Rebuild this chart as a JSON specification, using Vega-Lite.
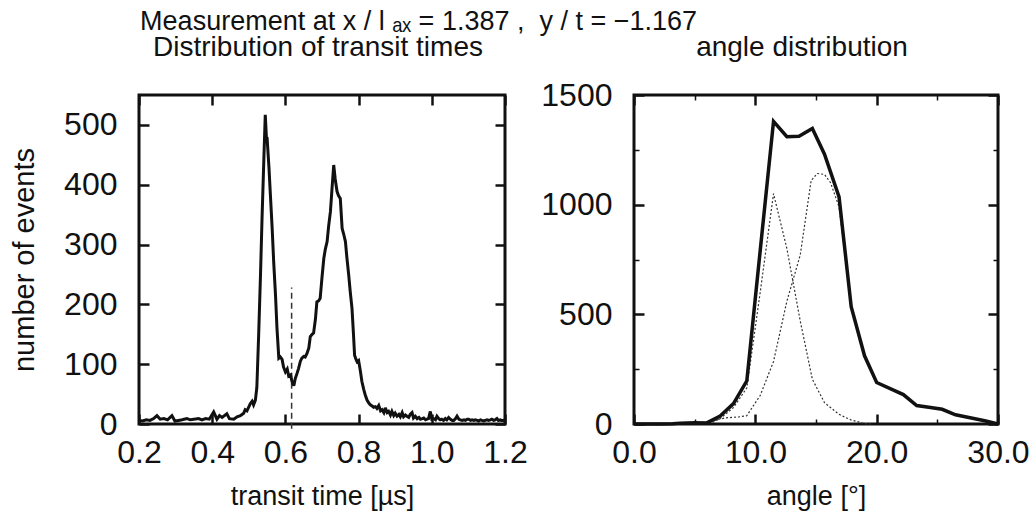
{
  "$schema": "https://vega.github.io/schema/vega-lite/v6.json",
  "padding": {"left": 9, "top": 8, "right": 0, "bottom": 0},
  "background": "white",
  "config": {
    "font": "Liberation Sans",
    "view": {"stroke": "#111", "strokeWidth": 3},
    "axis": {
      "grid": false,
      "domain": false,
      "ticks": true,
      "minExtent": 0,
      "tickColor": "#111",
      "tickWidth": 2.5,
      "tickSize": 10,
      "offset": -10,
      "labelFlush": false,
      "labelFontSize": 32,
      "labelColor": "#111",
      "labelPadding": 22,
      "titleFontSize": 27,
      "titleFontWeight": "normal",
      "titleColor": "#111"
    },
    "axisX": {"labelPadding": 13, "titlePadding": 15},
    "title": {"fontSize": 28, "fontWeight": "normal", "color": "#111"}
  },
  "title": {"text": "Measurement at x / l ₐₓ = 1.387 ,\u00a0\u00a0y / t = −1.167", "fontSize": 27, "anchor": "start", "dx": 131, "offset": -4},
  "datasets": {
    "transit": [
      {"t":0.200,"n":6},{"t":0.210,"n":5},{"t":0.220,"n":7},{"t":0.230,"n":6},{"t":0.240,"n":9},{"t":0.249,"n":14},{"t":0.258,"n":8},{"t":0.268,"n":9},{"t":0.278,"n":7},{"t":0.290,"n":14},{"t":0.298,"n":5},{"t":0.308,"n":6},{"t":0.318,"n":7},{"t":0.331,"n":9},{"t":0.340,"n":7},{"t":0.350,"n":8},{"t":0.363,"n":9},{"t":0.372,"n":7},{"t":0.382,"n":9},{"t":0.392,"n":8},{"t":0.404,"n":20},{"t":0.413,"n":8},{"t":0.420,"n":14},{"t":0.427,"n":11},{"t":0.440,"n":17},{"t":0.447,"n":9},{"t":0.459,"n":8},{"t":0.468,"n":12},{"t":0.477,"n":14},{"t":0.486,"n":18},{"t":0.490,"n":24},{"t":0.495,"n":22},{"t":0.504,"n":34},{"t":0.509,"n":38},{"t":0.513,"n":32},{"t":0.518,"n":40},{"t":0.522,"n":61},{"t":0.527,"n":150},{"t":0.532,"n":250},{"t":0.536,"n":340},{"t":0.541,"n":440},{"t":0.545,"n":517},{"t":0.548,"n":480},{"t":0.550,"n":478},{"t":0.555,"n":430},{"t":0.559,"n":383},{"t":0.564,"n":325},{"t":0.568,"n":271},{"t":0.573,"n":215},{"t":0.577,"n":160},{"t":0.582,"n":110},{"t":0.586,"n":112},{"t":0.591,"n":108},{"t":0.595,"n":95},{"t":0.600,"n":87},{"t":0.605,"n":92},{"t":0.609,"n":80},{"t":0.614,"n":82},{"t":0.618,"n":71},{"t":0.623,"n":64},{"t":0.627,"n":76},{"t":0.632,"n":85},{"t":0.636,"n":93},{"t":0.641,"n":105},{"t":0.645,"n":110},{"t":0.650,"n":113},{"t":0.654,"n":112},{"t":0.659,"n":118},{"t":0.664,"n":127},{"t":0.668,"n":146},{"t":0.673,"n":150},{"t":0.677,"n":152},{"t":0.682,"n":175},{"t":0.686,"n":204},{"t":0.691,"n":206},{"t":0.695,"n":210},{"t":0.700,"n":245},{"t":0.705,"n":277},{"t":0.709,"n":292},{"t":0.714,"n":305},{"t":0.718,"n":330},{"t":0.723,"n":355},{"t":0.727,"n":390},{"t":0.732,"n":433},{"t":0.736,"n":410},{"t":0.741,"n":389},{"t":0.745,"n":382},{"t":0.750,"n":377},{"t":0.755,"n":327},{"t":0.759,"n":318},{"t":0.764,"n":305},{"t":0.768,"n":278},{"t":0.773,"n":249},{"t":0.777,"n":222},{"t":0.782,"n":193},{"t":0.786,"n":150},{"t":0.789,"n":115},{"t":0.793,"n":108},{"t":0.796,"n":104},{"t":0.800,"n":106},{"t":0.805,"n":88},{"t":0.809,"n":71},{"t":0.814,"n":58},{"t":0.818,"n":49},{"t":0.823,"n":40},{"t":0.828,"n":35},{"t":0.832,"n":32},{"t":0.837,"n":30},{"t":0.841,"n":28},{"t":0.846,"n":29},{"t":0.850,"n":26},{"t":0.855,"n":31},{"t":0.860,"n":22},{"t":0.864,"n":24},{"t":0.869,"n":19},{"t":0.873,"n":27},{"t":0.878,"n":19},{"t":0.882,"n":21},{"t":0.887,"n":15},{"t":0.891,"n":21},{"t":0.896,"n":14},{"t":0.900,"n":18},{"t":0.905,"n":13},{"t":0.910,"n":16},{"t":0.914,"n":12},{"t":0.919,"n":19},{"t":0.923,"n":12},{"t":0.928,"n":15},{"t":0.932,"n":13},{"t":0.937,"n":11},{"t":0.941,"n":16},{"t":0.946,"n":19},{"t":0.950,"n":10},{"t":0.955,"n":13},{"t":0.960,"n":9},{"t":0.965,"n":11},{"t":0.969,"n":8},{"t":0.974,"n":9},{"t":0.978,"n":10},{"t":0.983,"n":7},{"t":0.987,"n":8},{"t":0.991,"n":9},{"t":0.996,"n":21},{"t":1.000,"n":8},{"t":1.005,"n":9},{"t":1.010,"n":7},{"t":1.014,"n":13},{"t":1.019,"n":9},{"t":1.023,"n":7},{"t":1.027,"n":8},{"t":1.032,"n":6},{"t":1.037,"n":9},{"t":1.041,"n":7},{"t":1.046,"n":11},{"t":1.051,"n":8},{"t":1.056,"n":6},{"t":1.060,"n":6},{"t":1.065,"n":9},{"t":1.069,"n":13},{"t":1.074,"n":8},{"t":1.078,"n":7},{"t":1.083,"n":6},{"t":1.088,"n":7},{"t":1.092,"n":6},{"t":1.097,"n":8},{"t":1.101,"n":8},{"t":1.106,"n":6},{"t":1.110,"n":7},{"t":1.115,"n":6},{"t":1.119,"n":7},{"t":1.124,"n":6},{"t":1.128,"n":5},{"t":1.133,"n":7},{"t":1.137,"n":6},{"t":1.142,"n":5},{"t":1.146,"n":6},{"t":1.151,"n":7},{"t":1.155,"n":6},{"t":1.160,"n":7},{"t":1.164,"n":8},{"t":1.169,"n":6},{"t":1.173,"n":7},{"t":1.178,"n":9},{"t":1.182,"n":6},{"t":1.187,"n":7},{"t":1.190,"n":6},{"t":1.195,"n":6},{"t":1.200,"n":7}
    ],
    "cut": [{"t": 0.617, "lo": -8, "hi": 228}],
    "angle": [
      {"a":0,"c":0,"s":"total"},{"a":1.1,"c":0,"s":"total"},{"a":2.2,"c":0,"s":"total"},{"a":3.2,"c":1,"s":"total"},{"a":3.8,"c":4,"s":"total"},{"a":5.0,"c":6,"s":"total"},{"a":6.0,"c":5,"s":"total"},{"a":7.1,"c":36,"s":"total"},{"a":8.2,"c":93,"s":"total"},{"a":9.3,"c":197,"s":"total"},{"a":10.4,"c":790,"s":"total"},{"a":11.5,"c":1380,"s":"total"},{"a":12.6,"c":1310,"s":"total"},{"a":13.6,"c":1312,"s":"total"},{"a":14.7,"c":1347,"s":"total"},{"a":15.7,"c":1230,"s":"total"},{"a":16.9,"c":1035,"s":"total"},{"a":17.9,"c":535,"s":"total"},{"a":19.0,"c":311,"s":"total"},{"a":20.0,"c":189,"s":"total"},{"a":22.2,"c":134,"s":"total"},{"a":23.3,"c":84,"s":"total"},{"a":24.3,"c":76,"s":"total"},{"a":25.4,"c":67,"s":"total"},{"a":26.5,"c":42,"s":"total"},{"a":27.8,"c":27,"s":"total"},{"a":28.9,"c":15,"s":"total"},{"a":30.0,"c":0,"s":"total"},
      {"a":5.5,"c":0,"s":"c1"},{"a":6.5,"c":8,"s":"c1"},{"a":7.1,"c":25,"s":"c1"},{"a":8.2,"c":75,"s":"c1"},{"a":9.3,"c":165,"s":"c1"},{"a":10.4,"c":600,"s":"c1"},{"a":11.5,"c":1050,"s":"c1"},{"a":12.6,"c":800,"s":"c1"},{"a":13.7,"c":470,"s":"c1"},{"a":14.7,"c":204,"s":"c1"},{"a":15.7,"c":97,"s":"c1"},{"a":16.9,"c":44,"s":"c1"},{"a":17.9,"c":18,"s":"c1"},{"a":19.0,"c":2,"s":"c1"},{"a":19.5,"c":0,"s":"c1"},
      {"a":5.0,"c":0,"s":"c2"},{"a":6.3,"c":12,"s":"c2"},{"a":7.5,"c":28,"s":"c2"},{"a":8.6,"c":32,"s":"c2"},{"a":9.3,"c":38,"s":"c2"},{"a":10.4,"c":130,"s":"c2"},{"a":11.5,"c":285,"s":"c2"},{"a":12.6,"c":560,"s":"c2"},{"a":13.7,"c":770,"s":"c2"},{"a":14.6,"c":1110,"s":"c2"},{"a":15.1,"c":1142,"s":"c2"},{"a":15.7,"c":1138,"s":"c2"},{"a":16.2,"c":1100,"s":"c2"},{"a":16.9,"c":990,"s":"c2"},{"a":17.9,"c":532,"s":"c2"},{"a":19.0,"c":308,"s":"c2"},{"a":20.0,"c":186,"s":"c2"},{"a":22.2,"c":132,"s":"c2"},{"a":23.3,"c":82,"s":"c2"},{"a":24.3,"c":74,"s":"c2"},{"a":25.4,"c":65,"s":"c2"},{"a":26.5,"c":40,"s":"c2"},{"a":27.8,"c":25,"s":"c2"},{"a":28.9,"c":13,"s":"c2"},{"a":30.0,"c":0,"s":"c2"}
    ]
  },
  "spacing": 10,
  "hconcat": [
    {
      "width": 366,
      "height": 329,
      "title": {"text": "Distribution of transit times", "offset": 32, "dx": -4},
      "resolve": {"axis": {"x": "independent", "y": "independent"}},
      "layer": [
        {
          "data": {"name": "cut"},
          "mark": {"type": "rule", "color": "#333", "strokeWidth": 1.5, "strokeDash": [6, 4], "clip": false},
          "encoding": {
            "x": {"field": "t", "type": "quantitative", "scale": {"domain": [0.2, 1.2], "nice": false},
                  "axis": {"orient": "top", "labels": false, "title": null, "values": [0.2, 0.4, 0.6, 0.8, 1.0, 1.2]}},
            "y": {"field": "lo", "type": "quantitative", "scale": {"domain": [0, 550], "nice": false},
                  "axis": {"orient": "right", "labels": false, "title": null, "values": [0, 100, 200, 300, 400, 500]}},
            "y2": {"field": "hi"}
          }
        },
        {
          "data": {"name": "transit"},
          "mark": {"type": "line", "color": "#111", "strokeWidth": 3, "strokeJoin": "miter", "strokeMiterLimit": 3},
          "encoding": {
            "x": {"field": "t", "type": "quantitative",
                  "axis": {"orient": "bottom", "title": "transit time [µs]", "format": ".1f", "values": [0.2, 0.4, 0.6, 0.8, 1.0, 1.2]}},
            "y": {"field": "n", "type": "quantitative",
                  "axis": {"orient": "left", "title": "number of events", "titleFontSize": 29, "values": [0, 100, 200, 300, 400, 500], "titlePadding": 24}}
          }
        }
      ]
    },
    {
      "width": 364,
      "height": 329,
      "data": {"name": "angle"},
      "title": {"text": "angle distribution", "offset": 17, "dx": -14},
      "resolve": {"axis": {"x": "independent", "y": "independent"}},
      "layer": [
        {
          "transform": [{"filter": "datum.s == 'c1'"}],
          "mark": {"type": "line", "color": "#333", "strokeWidth": 1.2, "strokeDash": [2, 2]},
          "encoding": {
            "x": {"field": "a", "type": "quantitative", "scale": {"domain": [0, 30], "nice": false},
                  "axis": {"orient": "top", "labels": false, "title": null, "values": [0, 10, 20, 30]}},
            "y": {"field": "c", "type": "quantitative", "scale": {"domain": [0, 1500], "nice": false},
                  "axis": {"orient": "right", "labels": false, "title": null, "values": [0, 500, 1000, 1500]}}
          }
        },
        {
          "transform": [{"filter": "datum.s == 'c2'"}],
          "mark": {"type": "line", "color": "#333", "strokeWidth": 1.2, "strokeDash": [2, 2]},
          "encoding": {
            "x": {"field": "a", "type": "quantitative",
                  "axis": {"orient": "bottom", "labels": false, "title": null, "values": [5, 15, 25], "tickSize": 5, "offset": -5, "tickWidth": 1.5}},
            "y": {"field": "c", "type": "quantitative",
                  "axis": {"orient": "left", "labels": false, "title": null, "values": [250, 750, 1250], "tickSize": 5, "offset": -5, "tickWidth": 1.5}}
          }
        },
        {
          "transform": [{"filter": "datum.s == 'total'"}],
          "mark": {"type": "point", "opacity": 0},
          "encoding": {
            "x": {"field": "a", "type": "quantitative",
                  "axis": {"orient": "top", "labels": false, "title": null, "values": [5, 15, 25], "tickSize": 5, "offset": -5, "tickWidth": 1.5}},
            "y": {"field": "c", "type": "quantitative",
                  "axis": {"orient": "right", "labels": false, "title": null, "values": [250, 750, 1250], "tickSize": 5, "offset": -5, "tickWidth": 1.5}}
          }
        },
        {
          "transform": [{"filter": "datum.s == 'total'"}],
          "mark": {"type": "line", "color": "#111", "strokeWidth": 3.5, "strokeJoin": "miter", "strokeMiterLimit": 3},
          "encoding": {
            "x": {"field": "a", "type": "quantitative",
                  "axis": {"orient": "bottom", "title": "angle [°]", "format": ".1f", "values": [0, 10, 20, 30]}},
            "y": {"field": "c", "type": "quantitative",
                  "axis": {"orient": "left", "title": null, "format": "d", "values": [0, 500, 1000, 1500]}}
          }
        }
      ]
    }
  ]
}
